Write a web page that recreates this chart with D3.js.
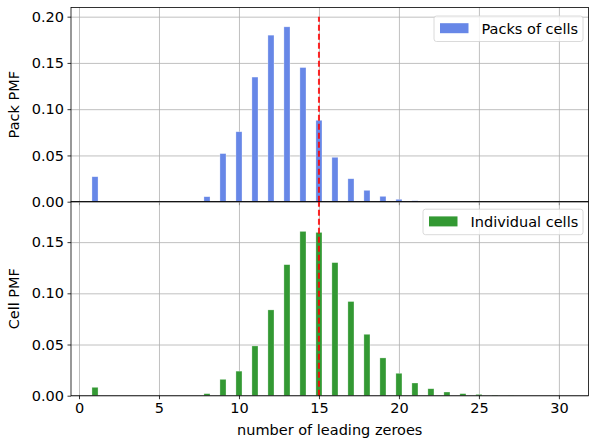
<!DOCTYPE html>
<html>
<head>
<meta charset="utf-8">
<script src="https://cdn.jsdelivr.net/npm/d3@7"></script>
<style>
  body { margin: 0; background: #fff; }
  svg { font-family: "DejaVu Sans", sans-serif; }
</style>
</head>
<body>
<div id="chart"></div>
<script>
// data
const zeroes = [1, 8, 9, 10, 11, 12, 13, 14, 15, 16, 17, 18, 19, 20, 21, 22, 23, 24, 25, 26, 27];
const packPmf = [0.027, 0.0054, 0.052, 0.0756, 0.1347, 0.180, 0.189, 0.145, 0.088, 0.048, 0.0248,
                 0.0123, 0.0058, 0.0026, 0.001, 0.0004, 0.0002, 0, 0, 0, 0];
const cellPmf = [0.0082, 0.002, 0.016, 0.024, 0.0486, 0.0838, 0.128, 0.1605, 0.1595, 0.130, 0.092,
                 0.060, 0.0369, 0.0219, 0.0124, 0.0068, 0.0036, 0.002, 0.0013, 0.0005, 0.0002];
const xTicks = [0, 5, 10, 15, 20, 25, 30];
const packTicks = [0.00, 0.05, 0.10, 0.15, 0.20];
const cellTicks = [0.00, 0.05, 0.10, 0.15];
const threshold = 15;

const [width, height] = [589, 440];
const fontSize = 14.5;
const margin = { left: 71, right: 0.5 };
const panels = [
    { name: 'pack', top: 7.5, bottom: 201.7, max: 0.2099, values: packPmf, ticks: packTicks,
      color: '#6787e7', label: 'Pack PMF', legend: 'Packs of cells', legendX: 434 },
    { name: 'cell', top: 201.7, bottom: 395.7, max: 0.1895, values: cellPmf, ticks: cellTicks,
      color: '#339933', label: 'Cell PMF', legend: 'Individual cells', legendX: 423 }
];

const x = d3.scaleLinear()
    .domain([-0.5, 31.85])
    .range([margin.left, width - margin.right]);
const barW = x(0.38) - x(0);

const svg = d3.select('#chart')
    .append('svg')
    .attr('width', width)
    .attr('height', height);

panels.forEach((p, i) => {
    const y = d3.scaleLinear().domain([0, p.max]).range([p.bottom, p.top]);
    const g = svg.append('g').attr('class', p.name);

    svg.append('clipPath').attr('id', `clip-${p.name}`)
        .append('rect')
        .attr('x', x.range()[0]).attr('y', p.top)
        .attr('width', x.range()[1] - x.range()[0]).attr('height', p.bottom - p.top);

    // grid
    g.append('g')
        .attr('transform', `translate(0,${p.bottom})`)
        .call(d3.axisBottom(x).tickValues(xTicks).tickSize(-(p.bottom - p.top)).tickFormat(''))
        .call(a => a.select('.domain').remove())
        .selectAll('line').attr('stroke', '#b0b0b0').attr('stroke-width', 0.8);
    g.append('g')
        .attr('transform', `translate(${x.range()[0]},0)`)
        .call(d3.axisLeft(y).tickValues(p.ticks).tickSize(-(x.range()[1] - x.range()[0])).tickFormat(''))
        .call(a => a.select('.domain').remove())
        .selectAll('line').attr('stroke', '#b0b0b0').attr('stroke-width', 0.8);

    // bars
    g.append('g')
        .attr('clip-path', `url(#clip-${p.name})`)
        .selectAll('rect')
        .data(zeroes.map((z, k) => ({ z, v: p.values[k] })).filter(d => d.v > 0))
        .enter()
        .append('rect')
        .attr('x', d => x(d.z) - barW / 2)
        .attr('y', d => y(d.v))
        .attr('width', barW)
        .attr('height', d => p.bottom - y(d.v))
        .attr('fill', p.color)
        .attr('stroke', '#fff')
        .attr('stroke-opacity', 0.5)
        .attr('stroke-width', 0.6);

    // threshold line
    g.append('line')
        .attr('clip-path', `url(#clip-${p.name})`)
        .attr('x1', x(threshold)).attr('x2', x(threshold))
        .attr('y1', y(0)).attr('y2', y(0.2))
        .attr('stroke', 'red')
        .attr('stroke-opacity', 0.85)
        .attr('stroke-width', 2)
        .attr('stroke-dasharray', '6,3');

    // axes
    const yAxis = g.append('g')
        .attr('transform', `translate(${x.range()[0]},0)`)
        .call(d3.axisLeft(y).tickValues(p.ticks).tickFormat(d3.format('.2f')).tickSize(3.5).tickPadding(3.5));
    yAxis.select('.domain').remove();
    const xAxis = g.append('g')
        .attr('transform', `translate(0,${p.bottom})`)
        .call(d3.axisBottom(x).tickValues(xTicks).tickSize(3.5).tickPadding(3.5)
            .tickFormat(i === 1 ? d3.format('d') : ''));
    xAxis.select('.domain').remove();
    [yAxis, xAxis].forEach(a => {
        a.selectAll('text').attr('font-size', fontSize).attr('fill', '#000').attr('font-family', 'DejaVu Sans');
        a.selectAll('line').attr('stroke', '#000').attr('stroke-width', 0.8);
    });

    // frame
    g.append('rect')
        .attr('x', x.range()[0]).attr('y', p.top)
        .attr('width', x.range()[1] - x.range()[0]).attr('height', p.bottom - p.top)
        .attr('fill', 'none').attr('stroke', '#000').attr('stroke-width', 0.8);

    // y label
    g.append('text')
        .attr('transform', `translate(19,${(p.top + p.bottom) / 2}) rotate(-90)`)
        .attr('text-anchor', 'middle')
        .attr('font-size', fontSize)
        .text(p.label);

    // legend
    const lx = p.legendX, ly = p.top + (i === 0 ? 8.5 : 7.5);
    const lw = 583 - lx;
    const leg = g.append('g');
    leg.append('rect')
        .attr('x', lx).attr('y', ly).attr('width', lw).attr('height', 25.5)
        .attr('rx', 2.5)
        .attr('fill', '#fff').attr('fill-opacity', 0.8)
        .attr('stroke', '#d0d0d0').attr('stroke-width', 0.8);
    leg.append('rect')
        .attr('x', lx + 6).attr('y', ly + 7.2).attr('width', 28.5).attr('height', 10)
        .attr('fill', p.color);
    leg.append('text')
        .attr('x', lx + 47.5).attr('y', ly + 17.5)
        .attr('font-size', fontSize)
        .text(p.legend);
});

svg.append('text')
    .attr('x', (x.range()[0] + x.range()[1]) / 2)
    .attr('y', 435)
    .attr('text-anchor', 'middle')
    .attr('font-size', fontSize)
    .text('number of leading zeroes');
</script>
</body>
</html>
